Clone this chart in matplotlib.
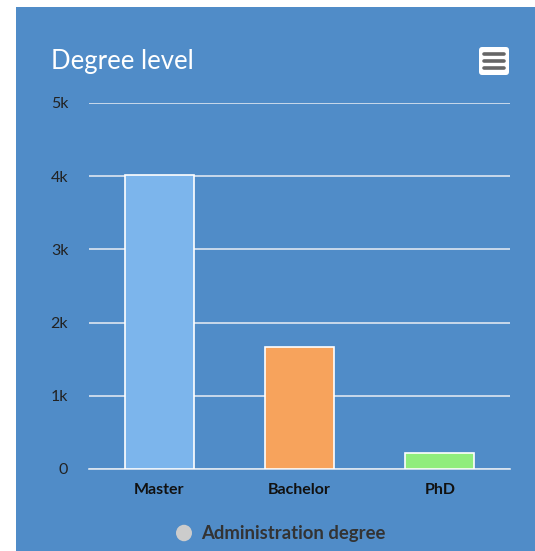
import matplotlib.pyplot as plt
from matplotlib.patches import FancyBboxPatch, Rectangle

# Données du graphique
categories = ["Master", "Bachelor", "PhD"]
valeurs = [4010, 1665, 220]
couleurs = ["#7cb5ec", "#f7a35c", "#90ed7d"]
ticks = [0, 1000, 2000, 3000, 4000, 5000]
tick_labels = ["0", "1k", "2k", "3k", "4k", "5k"]

W, H = 535, 551
fig = plt.figure(figsize=(W / 100, H / 100), dpi=100)
fig.patch.set_facecolor("white")
plt.rcParams["font.family"] = ["Lato", "DejaVu Sans"]

# Panneau bleu
fig.patches.append(Rectangle((16 / W, 0), 1 - 16 / W, 1 - 7 / H, transform=fig.transFigure,
                             facecolor="#508cc8", edgecolor="none", zorder=-10))

# Zone de tracé
x0, x1 = 89, 510
y_top, y_bot = 103, 469
ax = fig.add_axes([x0 / W, 1 - y_bot / H, (x1 - x0) / W, (y_bot - y_top) / H], zorder=2)
ax.set_facecolor("none")
ax.bar(range(len(categories)), valeurs, width=0.49, color=couleurs,
       edgecolor="white", linewidth=1.2, zorder=3)
ax.set_xlim(-0.5, len(categories) - 0.5)
ax.set_ylim(0, 5000)
ax.set_yticks(ticks)
ax.set_yticklabels(tick_labels, fontsize=11.5, color="#222222")
ax.set_xticks(range(len(categories)))
ax.set_xticklabels(categories, fontsize=11.5, fontweight="bold", color="#111111")
ax.tick_params(axis="y", length=0, pad=15)
ax.tick_params(axis="x", length=0, pad=10)
ax.grid(axis="y", color="#dde6f0", linewidth=1.2, zorder=1)
for s in ["top", "right", "left"]:
    ax.spines[s].set_visible(False)
ax.spines["bottom"].set_color("#dde6f0")
ax.spines["bottom"].set_linewidth(1.2)

# Titre
fig.text(51 / W, 1 - 61 / H, "Degree level", fontsize=18.5, color="white", va="center", ha="left")

# Bouton menu
btn = FancyBboxPatch((479 / W, 1 - 75 / H), 30 / W, 28 / H, boxstyle="round,pad=0,rounding_size=0.006",
                     transform=fig.transFigure, facecolor="white", edgecolor="none")
fig.patches.append(btn)
for yy in [54, 61, 68]:
    fig.lines.append(plt.Line2D([484 / W, 504 / W], [1 - yy / H] * 2, transform=fig.transFigure,
                                color="#666666", linewidth=2.6, solid_capstyle="round"))

# Légende
fig.patches.append(plt.Circle((184 / W, 1 - 533 / H), 8 / W, transform=fig.transFigure,
                              facecolor="#cccccc", edgecolor="none"))
fig.text(201 / W, 1 - 533 / H, "Administration degree", fontsize=13.3, fontweight="bold",
         color="#333333", va="center", ha="left")

fig.savefig("out.png", dpi=100)
